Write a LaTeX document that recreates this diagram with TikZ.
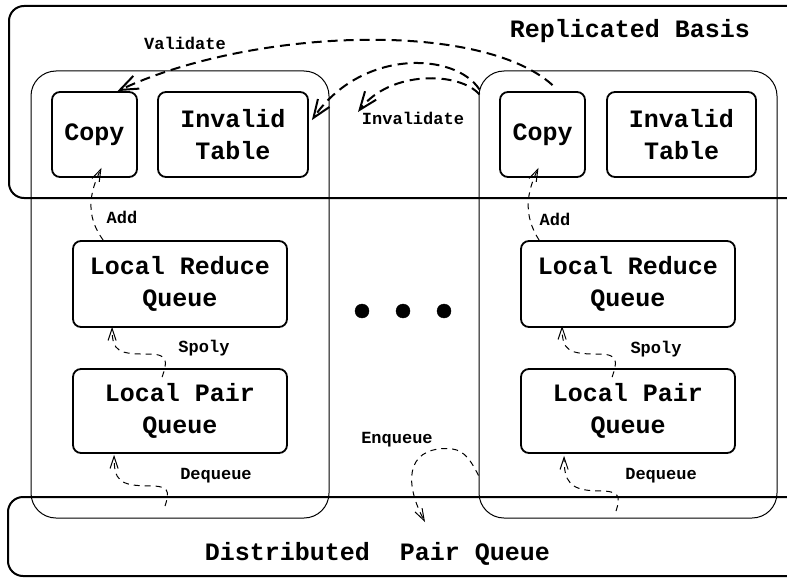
\documentclass[tikz,border=0pt]{standalone}
\usepackage{fontspec}
\setmonofont{Liberation Mono}
\usetikzlibrary{arrows.meta,calc}

\begin{document}
\begin{tikzpicture}[x=1pt, y=-1pt,
    every node/.style={font=\ttfamily\bfseries},
    region/.style={draw, line width=2pt, rounded corners=15pt, inner sep=0pt},
    proc/.style={draw, line width=1pt, rounded corners=25pt, inner sep=0pt,
        minimum width=298pt, minimum height=447pt},
    unit/.style={draw, line width=1.8pt, rounded corners=8pt, inner sep=0pt, align=center,
        font=\ttfamily\bfseries\fontsize{25}{32}\selectfont},
    title/.style={anchor=base, font=\ttfamily\bfseries\fontsize{25}{30}\selectfont},
    tag/.style={anchor=base, font=\ttfamily\bfseries\fontsize{17}{20}\selectfont},
    bigflow/.style={line width=2pt, dash pattern=on 10pt off 6pt,
        -{Straight Barb[length=18pt,width=14pt]}},
    flow/.style={line width=1pt, dash pattern=on 6pt off 5pt,
        -{Straight Barb[length=12pt,width=8pt]}}]

    \clip (0,0) rectangle (787,578);

    \node[region, minimum width=811pt, minimum height=192pt] (basis) at (414.5,102) {};
    \node[region, minimum width=812pt, minimum height=79pt] (dist) at (414,536.5) {};

    \node[proc] (lnode) at (180,294.5) {};
    \node[proc] (rnode) at (628,294.5) {};

    \node[unit, minimum width=85pt, minimum height=85pt] (lcopy) at (94.5,134.5) {Copy};
    \node[unit, minimum width=150pt, minimum height=85pt] (linv) at (233,134.5) {Invalid\\Table};
    \node[unit, minimum width=214pt, minimum height=86pt] (lred) at (180,284) {Local Reduce\\Queue};
    \node[unit, minimum width=214pt, minimum height=84pt] (lpair) at (180,411) {Local Pair\\Queue};

    \node[unit, minimum width=85pt, minimum height=85pt] (rcopy) at (542.5,134.5) {Copy};
    \node[unit, minimum width=149pt, minimum height=85pt] (rinv) at (681.5,134.5) {Invalid\\Table};
    \node[unit, minimum width=214pt, minimum height=86pt] (rred) at (628,284) {Local Reduce\\Queue};
    \node[unit, minimum width=214pt, minimum height=84pt] (rpair) at (628,411) {Local Pair\\Queue};

    \node[title] (basistitle) at (630,38) {Replicated Basis};
    \node[title] (disttitle) at (377.5,560) {Distributed~~Pair Queue};

    \node[tag] (validate) at (185,49) {Validate};
    \node[tag] (invalidate) at (413,124) {Invalidate};
    \node[tag] (ladd) at (122,223) {Add};
    \node[tag] (radd) at (555,225) {Add};
    \node[tag] (lspoly) at (204,352) {Spoly};
    \node[tag] (rspoly) at (656,353) {Spoly};
    \node[tag] (ldeq) at (216,479) {Dequeue};
    \node[tag] (rdeq) at (661,479) {Dequeue};
    \node[tag] (enq) at (397,443) {Enqueue};

    \foreach \x in {362,403,444}
        \filldraw[black] (\x,311) circle (7pt);

    \coordinate (invtip) at (358,112);
    \coordinate (enqtip) at (425,522);

    \draw[bigflow] ($(rcopy.north)+(10,-6)$) .. controls +(-73,-66) and +(132,-62) .. ($(lcopy.north)+(23,0)$);
    \draw[bigflow] ($(rnode.north west)+(1,19)$) .. controls +(-25,-38) and +(49,-71) .. ($(linv.north east)+(3,29)$);
    \draw[bigflow] ($(rnode.north west)+(1,24)$) .. controls +(-20,-23) and +(32,-42) .. (invtip);

    \draw[flow] ($(lred.north west)+(31,0)$) .. controls +(-18,-25) and +(-12,25) .. ($(lcopy.south)+(7,-10)$);
    \draw[flow] ($(rred.north west)+(19,0)$) .. controls +(-16,-25) and +(-12,25) .. ($(rcopy.south)+(-4,-10)$);

    \draw[flow] ($(lpair.north west)+(90,9)$) .. controls +(5,-15) and +(20,0) .. ($(lpair.north west)+(77,-14)$)
        .. controls +(-30,0) and +(0,25) .. ($(lred.south west)+(40,-1)$);
    \draw[flow] ($(rpair.north west)+(92,9)$) .. controls +(5,-15) and +(20,0) .. ($(rpair.north west)+(79,-14)$)
        .. controls +(-30,0) and +(0,25) .. ($(rred.south west)+(42,-2)$);

    \draw[flow] ($(dist.north west)+(158,10)$) .. controls +(5,-15) and +(20,0) .. ($(lpair.south west)+(77,32)$)
        .. controls +(-30,0) and +(0,25) .. ($(lpair.south west)+(42,1)$);
    \draw[flow] ($(dist.north west)+(609,15)$) .. controls +(5,-15) and +(20,0) .. ($(rpair.south west)+(79,37)$)
        .. controls +(-30,0) and +(0,25) .. ($(rpair.south west)+(44,2)$);

    \draw[flow] ($(rnode.south west)+(0,-43)$) .. controls +(-10,-20) and +(15,0) .. ($(rnode.south west)+(-32,-70)$)
        .. controls +(-42,0) and +(-20,-37) .. (enqtip);
\end{tikzpicture}
\end{document}
